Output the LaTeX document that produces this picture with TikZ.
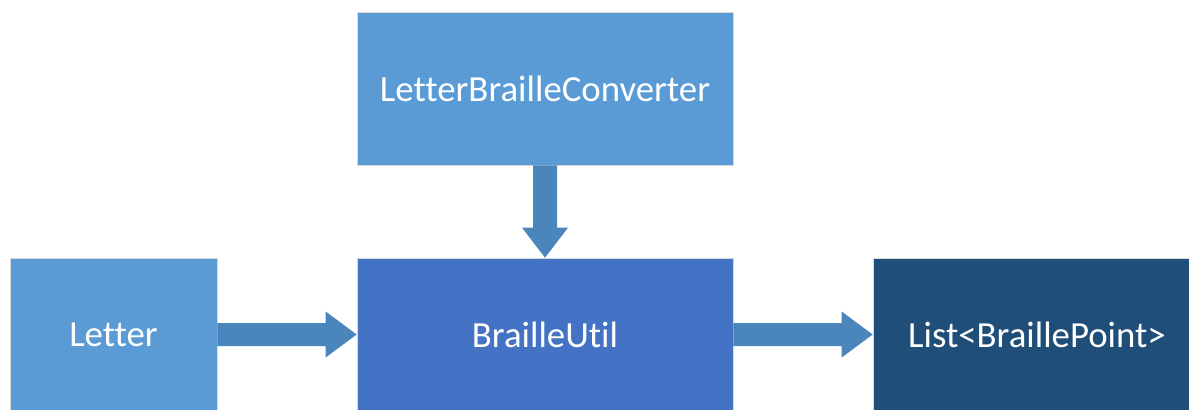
\documentclass[tikz,border=0pt]{standalone}
\usepackage{fontspec}
\setmainfont{Carlito}[Ligatures={NoCommon}]
\usetikzlibrary{calc}

\definecolor{lightblue}{RGB}{91,155,213}
\definecolor{midblue}{RGB}{68,114,196}
\definecolor{darkblue}{RGB}{31,78,121}
\definecolor{arrowblue}{RGB}{74,134,187}

\tikzset{every picture/.style={line width=0.75pt}}
\tikzset{
  block/.style={rectangle, inner sep=0pt, minimum height=114.75pt, text=white,
    draw=black!15, line width=0.5pt, font=\fontsize{27.6}{33}\selectfont},
  blockarrow/.style={fill=arrowblue, draw=none}
}

\begin{document}
\begin{tikzpicture}[x=0.75pt,y=0.75pt,yscale=-1,xscale=1]
	%set diagram size 1189 x 410
	\clip (0,0) rectangle (1189,410);
	\fill[white] (0,0) rectangle (1189,410);

	%Blocks
	\node[block, fill=lightblue, minimum width=282pt] (conv) at (545,88.5) {LetterBrailleConverter};
	\node[block, fill=lightblue, minimum width=155.25pt] (letter) at (113.5,334.5) {Letter};
	\node[block, fill=midblue, minimum width=282pt] (util) at (545,334.5) {BrailleUtil};
	\node[block, fill=darkblue, minimum width=246pt] (list) at (1037,334.5) {List<BraillePoint>};

	%Block arrows
	\fill[blockarrow] ($(conv.south)+(-12,0)$) -- ($(util.north)+(-12,-30)$) -- ($(util.north)+(-23,-30)$) -- (util.north)
	  -- ($(util.north)+(23,-30)$) -- ($(util.north)+(12,-30)$) -- ($(conv.south)+(12,0)$) -- cycle;
	\fill[blockarrow] ($(letter.east)+(0,-11.5)$) -- ($(util.west)+(-31,-11.5)$) -- ($(util.west)+(-31,-23)$) -- (util.west)
	  -- ($(util.west)+(-31,23)$) -- ($(util.west)+(-31,11.5)$) -- ($(letter.east)+(0,11.5)$) -- cycle;
	\fill[blockarrow] ($(util.east)+(0,-11.5)$) -- ($(list.west)+(-31,-11.5)$) -- ($(list.west)+(-31,-23)$) -- (list.west)
	  -- ($(list.west)+(-31,23)$) -- ($(list.west)+(-31,11.5)$) -- ($(util.east)+(0,11.5)$) -- cycle;

\end{tikzpicture}
\end{document}
